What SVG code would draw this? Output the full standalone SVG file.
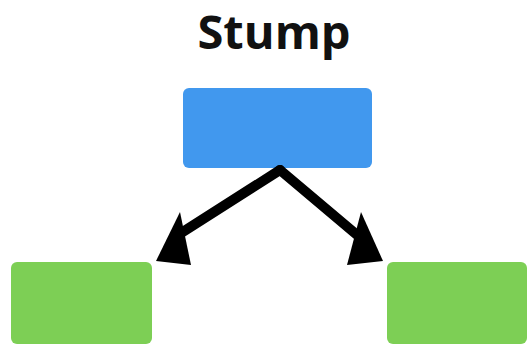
<svg xmlns="http://www.w3.org/2000/svg" width="527" height="345" viewBox="0 0 527 345">
<defs>
<style>
.title{font-family:"Open Sans","Liberation Sans",sans-serif;font-weight:bold;font-size:47px;fill:#111}
.root{fill:#4198ee}
.leaf{fill:#7dcf55}
.edge{stroke:#000;stroke-width:10;fill:none;stroke-linecap:round}
.head{fill:#000}
</style>
</defs>
<rect width="527" height="345" fill="#fff"/>
<text class="title" x="274" y="49" text-anchor="middle">Stump</text>
<g id="root"><rect class="root" x="183" y="88" width="189" height="80" rx="6"/></g>
<g id="left"><rect class="leaf" x="11" y="262" width="141" height="82" rx="6"/></g>
<g id="right"><rect class="leaf" x="387" y="262" width="140" height="82" rx="6"/></g>
<g id="connectors">
<path class="edge" d="M280 170 L178 235"/>
<path class="edge" d="M280 170 L363 240"/>
<polygon class="head" points="156,261 180,212 191,265"/>
<polygon class="head" points="383,261 361,212 347,265"/>
</g>
</svg>
